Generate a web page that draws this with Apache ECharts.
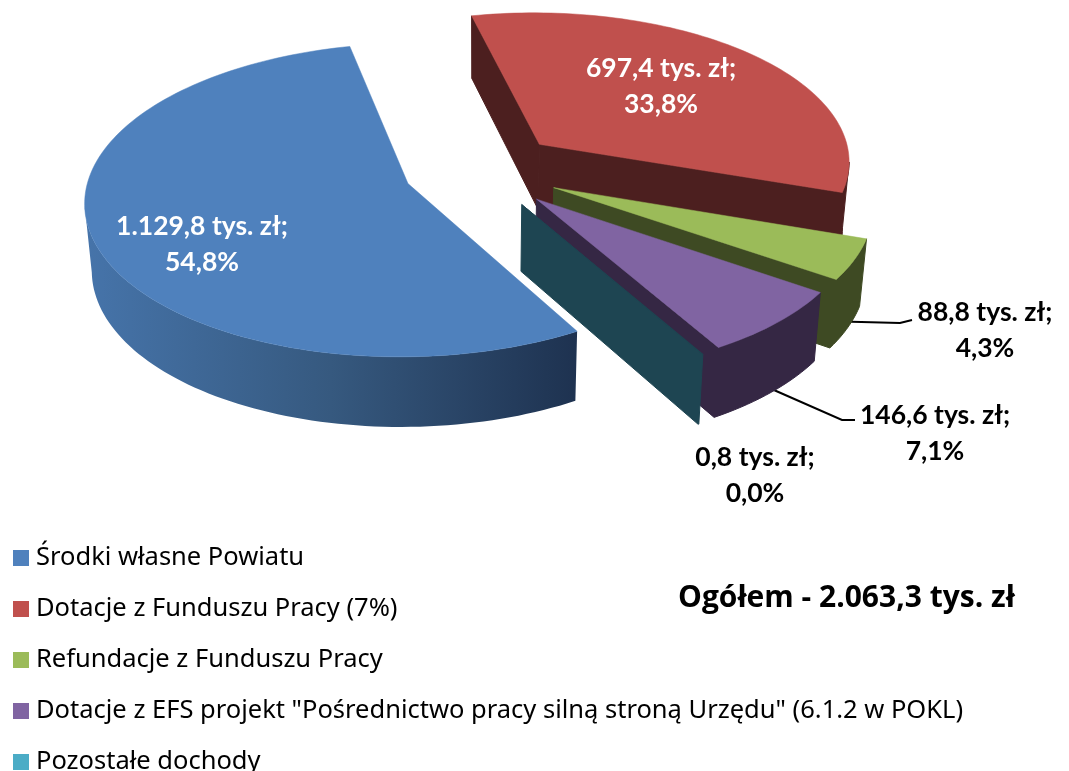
<!DOCTYPE html>
<html><head><meta charset="utf-8">
<script src="https://cdn.jsdelivr.net/npm/echarts@6/dist/echarts.min.js"></script>
<style>html,body{margin:0;padding:0;background:#fff}#c{width:1069px;height:771px}</style>
</head><body><div id="c"></div>
<script>
const categories = ['Środki własne Powiatu','Dotacje z Funduszu Pracy (7%)','Refundacje z Funduszu Pracy','Dotacje z EFS projekt "Pośrednictwo pracy silną stroną Urzędu" (6.1.2 w POKL)','Pozostałe dochody'];
const values = [1129.8, 697.4, 88.8, 146.6, 0.8];
const percents = ['54,8%','33,8%','4,3%','7,1%','0,0%'];
const totalLabel = 'Ogółem - 2.063,3 tys. zł';
const topColors = ['#4f81bd','#c0504d','#9bbb59','#8064a2','#4bacc6'];
const wallColors = ['#2f4d71','#4c1f1f','#3e4a23','#352744','#1e4552'];
const labelColors = ['#fff','#fff','#000','#000','#000'];
const labelCentres = [[202,244],[661,86],[985,330],[935,433],[755,475]];
const leaderPaths = [null,null,[[900,323],[912,320]],[[842,420],[855,420]],null];
const explodes = [0.245,0.26,0.26,0.26,0.26];
const radii = [1.015,1,1,1,1];

// pseudo-3D projection
const VIEW = {cx:480, cy:170, rx:313, ry:150, persp:0.1026, depth:66, bottomScale:0.982, start:150};
const total = values.reduce((a,b)=>a+b,0);
const rad = d => d*Math.PI/180;
function project(wx, wy, lower){
  const f = 1/(1-VIEW.persp*wy);
  let x = VIEW.cx + VIEW.rx*wx*f, y = VIEW.cy + VIEW.ry*wy*f;
  if(lower){ x = VIEW.cx+(x-VIEW.cx)*VIEW.bottomScale; y += VIEW.depth*Math.sqrt(f); }
  return [x,y];
}
function fmt(v){
  const s = v.toFixed(1).replace('.',',');
  return s.replace(/^(\d)(\d{3})/,'$1.$2');
}
function sliceRange(i){
  let a = VIEW.start;
  for(let k=0;k<i;k++) a += values[k]/total*360;
  return [a, a+values[i]/total*360];
}
function renderSlice(i, v){
  const [a0,a1] = sliceRange(i);
  const mid = rad((a0+a1)/2);
  const R = radii[i];
  const ox = explodes[i]*Math.sin(mid), oy = -explodes[i]*Math.cos(mid);
  const world = [[ox,oy]];
  const steps = Math.max(2, Math.ceil((a1-a0)/1.5));
  for(let k=0;k<=steps;k++){
    const t = rad(a0+(a1-a0)*k/steps);
    world.push([ox+R*Math.sin(t), oy-R*Math.cos(t)]);
  }
  world.push([ox,oy]);
  const top = world.map(w=>project(w[0],w[1],false));
  const bot = world.map(w=>project(w[0],w[1],true));
  const children = [];
  // leader line, behind the walls
  if(leaderPaths[i]){
    const e = project(ox+R*Math.sin(mid), oy-R*Math.cos(mid), true);
    children.push({type:'polyline',shape:{points:[[e[0]-6,e[1]-6]].concat(leaderPaths[i])},style:{stroke:'#000',lineWidth:2,fill:null}});
  }
  // walls: edges moving leftwards on screen face the viewer
  let run = null; const runs = [];
  for(let k=0;k<top.length-1;k++){
    if(top[k+1][0]-top[k][0] < 0){
      if(!run){ run=[k]; runs.push(run); }
      run.push(k+1);
    } else run=null;
  }
  runs.forEach(r=>{
    const pts = r.map(k=>top[k]).concat(r.slice().reverse().map(k=>bot[k]));
    const fill = i===0 ? new echarts.graphic.LinearGradient(0,0,1,0,[{offset:0,color:'#4674aa'},{offset:0.5,color:'#36597f'},{offset:1,color:'#1e3250'}]) : wallColors[i];
    children.push({type:'polygon',shape:{points:pts},style:{fill:fill,stroke:i===0?null:wallColors[i],lineWidth:1}});
  });
  const faceColor = (a1-a0) < 1 ? wallColors[i] : topColors[i];
  children.push({type:'polygon',shape:{points:top},style:{fill:faceColor,stroke:faceColor,lineWidth:0.5}});
  children.push({type:'text',z2:20,style:{text:fmt(v)+' tys. zł;\n'+percents[i],x:labelCentres[i][0],y:labelCentres[i][1],
    fill:labelColors[i],fontWeight:'bold',fontSize:26.5,fontFamily:'Lato',align:'center',verticalAlign:'middle',lineHeight:36}});
  return {type:'group',children};
}
const chart = echarts.init(document.getElementById('c'),null,{renderer:'canvas'});
chart.setOption({
  animation:false,
  backgroundColor:'#fff',
  color:topColors,
  title:{text:totalLabel,left:678,top:583,padding:0,textStyle:{fontFamily:'Open Sans',fontWeight:'bold',fontSize:30,color:'#000'}},
  legend:{orient:'vertical',left:13,top:545,height:400,padding:0,itemWidth:16,itemHeight:16,itemGap:25,icon:'rect',selectedMode:false,
    data:categories,textStyle:{fontFamily:'Noto Sans',fontSize:25.5,color:'#000',padding:[0,0,0,2]}},
  series:categories.map((name,i)=>({
    type:'custom',name,coordinateSystem:'none',z:2+i,
    itemStyle:{color:topColors[i]},
    data:[[values[i]]],
    renderItem:(params,api)=>renderSlice(i,api.value(0))
  }))
});
</script></body></html>
